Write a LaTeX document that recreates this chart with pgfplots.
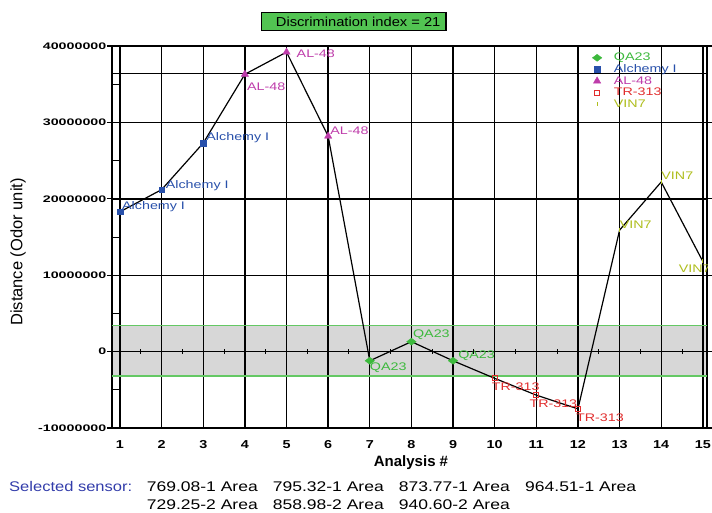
\documentclass[border=0pt]{standalone}
\usepackage{pgfplots}
\pgfplotsset{compat=1.18}
\usepackage{fontspec}
\setmainfont{Liberation Sans}
\newfontfamily\lblfont[FakeStretch=1.3]{Liberation Sans}
\newfontfamily\ytfont[FakeStretch=1.5]{Liberation Sans}
\newfontfamily\xtfont[FakeStretch=1.25]{Liberation Sans}
\newfontfamily\ttlfont[FakeStretch=1.13]{Liberation Sans}
\newfontfamily\botfont[FakeStretch=1.25]{Liberation Sans}
\newfontfamily\selfont[FakeStretch=1.18]{Liberation Sans}
\definecolor{qagreen}{RGB}{60,185,60}
\definecolor{alblue}{RGB}{40,80,170}
\definecolor{almag}{RGB}{190,60,170}
\definecolor{trred}{RGB}{225,45,45}
\definecolor{vinol}{RGB}{175,190,30}
\definecolor{bandgray}{RGB}{215,215,215}
\definecolor{bandline}{RGB}{100,200,100}
\definecolor{titlegreen}{RGB}{82,196,82}
\definecolor{selblue}{RGB}{50,60,170}
\begin{document}
\begin{tikzpicture}
\begin{axis}[
  set layers=standard,
  scale only axis, width=595pt, height=382pt,
  at={(0pt,0pt)}, anchor=south west,
  xmin=0.808, xmax=15.1, ymin=-10, ymax=40,
  xtick={1,...,15},
  ytick={-10,0,10,20,30,40},
  yticklabels={-10000000,0,10000000,20000000,30000000,40000000},
  /pgf/number format/assume math mode=true,
  grid=major,
  major grid style={black, line width=1.4pt},
  axis line style={black, line width=1.5pt},
  tick align=outside,
  major tick length=5pt,
  ytick style={black, line width=1.2pt},
  xtick style={draw=none},
  yticklabel style={font=\ytfont\bfseries\fontsize{9.5}{10}\selectfont, inner sep=0.5pt},
  xticklabel style={font=\xtfont\bfseries\fontsize{11.5}{12}\selectfont, anchor=north, yshift=-4pt},
  legend image code/.code={\path[draw=none, fill=none] (0pt,0pt) rectangle (19pt,0.1pt); \draw[#1] plot coordinates {(3pt,0pt)};},
  legend style={at={(axis description cs:0.802,0.990)}, anchor=north west, draw=none, fill=none,
    font=\lblfont\fontsize{11}{11}\selectfont,
    nodes={inner sep=0.8pt, text height=8pt, text depth=2pt}, row sep=0pt},
  legend cell align=left,
]
% grey discrimination band
\addplot[on layer=axis background, fill=bandgray, draw=none, forget plot]
  coordinates {(0.808,-3.2) (15.1,-3.2) (15.1,3.45) (0.808,3.45)} -- cycle;
\addplot[bandline, line width=1.2pt, forget plot] coordinates {(0.808,-3.2) (15.1,-3.2)};
\addplot[bandline, line width=1.2pt, forget plot] coordinates {(0.808,3.45) (15.1,3.45)};
% extra horizontal line
\addplot[black, line width=1.4pt, forget plot] coordinates {(0.808,36.4) (15.1,36.4)};
% ticks on zero line
\addplot[only marks, mark=|, mark size=2.5pt, black, mark options={line width=1pt}, forget plot]
  coordinates {(1.5,0)(2.5,0)(3.5,0)(4.5,0)(5.5,0)(6.5,0)(7.5,0)(8.5,0)(9.5,0)(10.5,0)(11.5,0)(12.5,0)(13.5,0)(14.5,0)};
% minor ticks at left
\addplot[only marks, mark=-, mark size=4pt, black, mark options={line width=1pt}, forget plot]
  coordinates {(0.904,-5)(0.904,5)(0.904,15)(0.904,25)(0.904,35)};
% connecting line
\addplot[black, line width=1.2pt, forget plot] coordinates {
  (1,18.3)(2,21.2)(3,27.3)(4,36.3)(5,39.2)(6,28.2)(7,-1.2)(8,1.3)
  (9,-1.2)(10,-3.5)(11,-5.7)(12,-7.5)(13,15.9)(14,22.2)(15,11.8)};
% series
\addplot[only marks, mark=diamond*, mark size=3.5pt, mark options={xscale=1.8, fill=qagreen, draw=qagreen}]
  coordinates {(7,-1.2)(8,1.3)(9,-1.2)};
\addlegendentry{\textcolor{qagreen}{QA23}}
\addplot[only marks, mark=square*, mark size=2.8pt, mark options={fill=alblue, draw=alblue}]
  coordinates {(1,18.3)(2,21.2)(3,27.3)};
\addlegendentry{\textcolor{alblue}{Alchemy I}}
\addplot[only marks, mark=triangle*, mark size=4.2pt, mark options={fill=almag, draw=almag}]
  coordinates {(4,36.3)(5,39.2)(6,28.2)};
\addlegendentry{\textcolor{almag}{AL-48}}
\addplot[only marks, mark=square, mark size=2.4pt, mark options={draw=trred, line width=0.9pt}]
  coordinates {(10,-3.5)(11,-5.7)(12,-7.5)};
\addlegendentry{\textcolor{trred}{TR-313}}
\addplot[only marks, mark=|, mark size=2pt, mark options={draw=vinol, line width=0.9pt}]
  coordinates {(13,15.9)(14,22.2)(15,11.8)};
\addlegendentry{\textcolor{vinol}{VIN7}}
% point labels
\tikzset{lbl/.style={font=\lblfont\fontsize{11}{13}\selectfont, inner sep=0pt}}
\node[lbl, text=alblue, anchor=west, xshift=2pt, yshift=5pt] at (axis cs:1,18.3) {Alchemy I};
\node[lbl, text=alblue, anchor=west, xshift=4pt, yshift=4pt] at (axis cs:2,21.2) {Alchemy I};
\node[lbl, text=alblue, anchor=west, xshift=3pt, yshift=5pt] at (axis cs:3,27.3) {Alchemy I};
\node[lbl, text=almag, anchor=west, xshift=2pt, yshift=-12pt] at (axis cs:4,36.3) {AL-48};
\node[lbl, text=almag, anchor=west, xshift=10pt, yshift=-2pt] at (axis cs:5,39.2) {AL-48};
\node[lbl, text=almag, anchor=west, xshift=2pt, yshift=5pt] at (axis cs:6,28.2) {AL-48};
\node[lbl, text=qagreen, anchor=west, xshift=0pt, yshift=-7pt] at (axis cs:7,-1.2) {QA23};
\node[lbl, text=qagreen, anchor=west, xshift=1.5pt, yshift=7pt] at (axis cs:8,1.3) {QA23};
\node[lbl, text=qagreen, anchor=west, xshift=5pt, yshift=5pt] at (axis cs:9,-1.2) {QA23};
\node[lbl, text=trred, anchor=west, xshift=-3pt, yshift=-8pt] at (axis cs:10,-3.5) {TR-313};
\node[lbl, text=trred, anchor=west, xshift=-7pt, yshift=-9pt] at (axis cs:11,-5.7) {TR-313};
\node[lbl, text=trred, anchor=west, xshift=-2pt, yshift=-9pt] at (axis cs:12,-7.5) {TR-313};
\node[lbl, text=vinol, anchor=west, xshift=0pt, yshift=5pt] at (axis cs:13,15.9) {VIN7};
\node[lbl, text=vinol, anchor=west, xshift=0pt, yshift=6pt] at (axis cs:14,22.2) {VIN7};
\node[lbl, text=vinol, anchor=east, xshift=8pt, yshift=-7.5pt] at (axis cs:15,11.8) {VIN7};
\end{axis}
% title box
\draw[fill=titlegreen, line width=1.3pt] (149.7pt,397.3pt) rectangle (334pt,415.7pt);
\node[anchor=west, inner sep=0pt, font=\ttlfont\fontsize{13}{13}\selectfont] at (163.7pt,406.5pt) {Discrimination index = 21};
% axis titles
\node[rotate=90, anchor=center, inner sep=0pt, font=\fontsize{16.5}{16.5}\selectfont] at (-94pt,176pt) {Distance (Odor unit)};
\node[anchor=center, inner sep=0pt, font=\bfseries\fontsize{15}{15}\selectfont] at (299pt,-35pt) {Analysis \#};
% selected sensor text
\node[anchor=base west, inner sep=0pt, text=selblue, font=\selfont\fontsize{14}{14}\selectfont] at (-103pt,-63pt) {Selected sensor:};
\tikzset{bt/.style={anchor=base west, inner sep=0pt, font=\botfont\fontsize{14}{14}\selectfont}}
\node[bt] at (34.7pt,-63pt) {769.08-1 Area};
\node[bt] at (160.7pt,-63pt) {795.32-1 Area};
\node[bt] at (286.7pt,-63pt) {873.77-1 Area};
\node[bt] at (413pt,-63pt) {964.51-1 Area};
\node[bt] at (34.7pt,-81pt) {729.25-2 Area};
\node[bt] at (160.7pt,-81pt) {858.98-2 Area};
\node[bt] at (286.7pt,-81pt) {940.60-2 Area};
\pgfresetboundingbox
\path[use as bounding box] (-112pt,-84pt) rectangle (600pt,428pt);
\end{tikzpicture}
\end{document}
